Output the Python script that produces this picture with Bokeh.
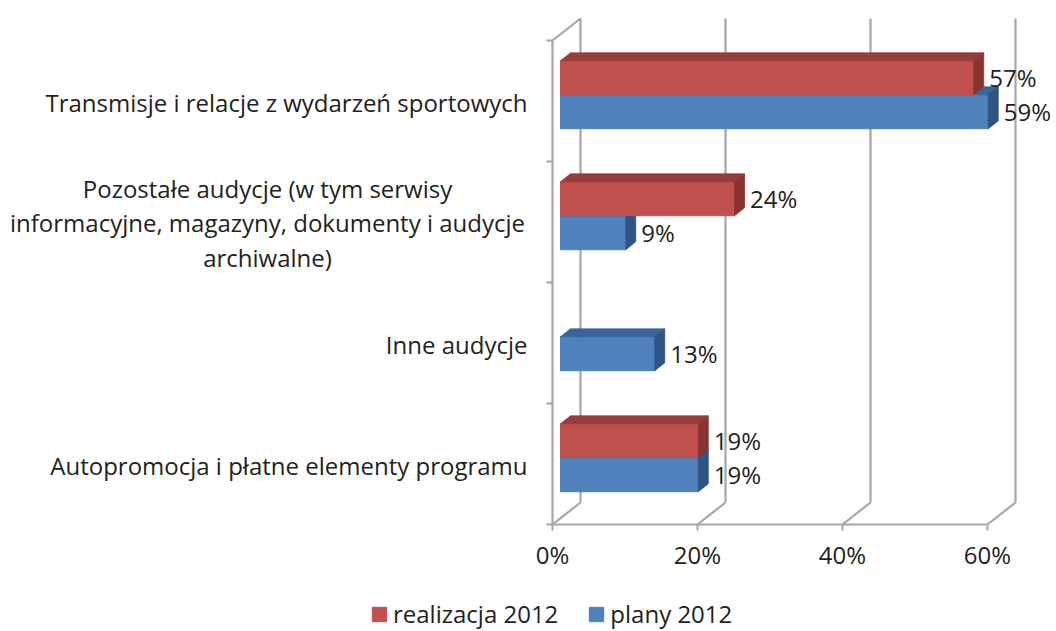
from bokeh.plotting import figure
from bokeh.models import (FixedTicker, PrintfTickFormatter, Legend, LegendItem, Range1d)
from bokeh.embed import file_html
from bokeh.resources import INLINE
from bokeh.core.properties import value

# ---------------- data (bottom to top) ----------------
categories = [
    "Autopromocja i płatne elementy programu",
    "Inne audycje",
    "Pozostałe audycje (w tym serwisy\ninformacyjne, magazyny, dokumenty i audycje\narchiwalne)",
    "Transmisje i relacje z wydarzeń sportowych",
]
realizacja_2012 = [19, None, 24, 57]
plany_2012 = [19, 13, 9, 59]
series_names = ["realizacja 2012", "plany 2012"]
x_ticks = [0, 20, 40, 60]

# ---------------- styling / geometry ----------------
FONT = "Open Sans"
FS = "24px"
TXT = "#231F20"
GRID = "#A6A6A6"
W, H = 1056, 631
ORIGIN_PX = 552          # pixel of 0% on the front plane
BASE_PX = 524            # pixel of the front baseline
PX_X = 7.25              # pixels per percent
PX_Y = 121.0             # pixels per category slot
DX = 28 / PX_X           # full depth (x, data units)
DY = 22 / PX_Y           # full depth (y, data units)
B_OFF = 8 / 28           # bar front offset as fraction of depth
B_DEP = 10 / 28          # bar depth as fraction of depth
BAR_H = 34 / PX_Y
LBL_GAP = 15.5 / PX_X

COLORS = {
    "red": ("#C0504D", "#963C3A", "#8A3431"),
    "blue": ("#4F81BD", "#3C6494", "#2F5382"),
}

x_start = -ORIGIN_PX / PX_X
y_start = -(H - BASE_PX) / PX_Y
p = figure(width=W, height=H, output_backend="svg", toolbar_location=None,
           x_range=Range1d(x_start, x_start + W / PX_X),
           y_range=Range1d(y_start, y_start + H / PX_Y),
           y_axis_location=None,
           min_border_left=0, min_border_right=0,
           min_border_top=0, min_border_bottom=0)
p.outline_line_color = None
p.grid.visible = False
p.background_fill_color = "white"
p.border_fill_color = "white"

n = len(categories)
xmax = max(x_ticks)

# ---------------- walls / gridlines ----------------
gx0, gy0, gx1, gy1 = [], [], [], []
for t in x_ticks:
    gx0.append(t); gy0.append(0); gx1.append(t + DX); gy1.append(DY)          # floor
    gx0.append(t + DX); gy0.append(DY); gx1.append(t + DX); gy1.append(n + DY)  # back wall
gx0.append(0); gy0.append(0); gx1.append(xmax); gy1.append(0)                 # front baseline
gx0.append(0); gy0.append(0); gx1.append(0); gy1.append(n)                    # left wall edge
gx0.append(0); gy0.append(n); gx1.append(DX); gy1.append(n + DY)              # left wall top
for k in range(n + 1):                                                        # category ticks
    gx0.append(-6 / PX_X); gy0.append(k); gx1.append(0); gy1.append(k)
p.segment(x0=gx0, y0=gy0, x1=gx1, y1=gy1, line_color=GRID, line_width=2.2)

# ---------------- 3D bars ----------------
ox = B_OFF * DX
oy = B_OFF * DY
bdx = B_DEP * DX
bdy = B_DEP * DY


def bars(values, offset, colkey):
    fl, fr, fb, ft = [], [], [], []
    txs, tys, sxs, sys_ = [], [], [], []
    lx, ly, lt = [], [], []
    for i, v in enumerate(values):
        if v is None:
            continue
        yb = i + 0.5 + offset + oy
        yt = yb + BAR_H
        fl.append(ox); fr.append(ox + v); fb.append(yb); ft.append(yt)
        txs.append([ox, ox + v, ox + v + bdx, ox + bdx]); tys.append([yt, yt, yt + bdy, yt + bdy])
        sxs.append([ox + v, ox + v + bdx, ox + v + bdx, ox + v]); sys_.append([yb, yb + bdy, yt + bdy, yt])
        lx.append(ox + v + LBL_GAP); ly.append((yb + yt) / 2); lt.append(f"{v}%")
    cf, ct, cs = COLORS[colkey]
    r = p.quad(left=fl, right=fr, bottom=fb, top=ft, fill_color=cf, line_color=cf, line_width=1)
    p.patches(xs=txs, ys=tys, fill_color=ct, line_color=ct, line_width=0.8)
    p.patches(xs=sxs, ys=sys_, fill_color=cs, line_color=cs, line_width=0.8)
    p.text(x=lx, y=ly, text=lt, text_font=value(FONT), text_font_size=FS,
           text_color=TXT, text_align="left", text_baseline="middle")
    return r


r_blue = bars(plany_2012, -BAR_H, "blue")
r_red = bars(realizacja_2012, 0.0, "red")

# ---------------- category labels ----------------
LBL_RIGHT = (527 - ORIGIN_PX) / PX_X
LBL_CENTER = (267 - ORIGIN_PX) / PX_X
cx, cy, ca = [], [], []
for i, c in enumerate(categories):
    multi = "\n" in c
    cx.append(LBL_CENTER if multi else LBL_RIGHT)
    ca.append("center" if multi else "right")
    cy.append(i + 0.5 - 1 / PX_Y)
p.text(x=cx, y=cy, text=categories, text_align=ca, text_baseline="middle",
       text_font=value(FONT), text_font_size=FS, text_color=TXT, text_line_height=1.04)

# ---------------- x axis (fixed at the front baseline) ----------------
xa = p.xaxis[0]
xa.fixed_location = 0
xa.ticker = FixedTicker(ticks=x_ticks)
xa.formatter = PrintfTickFormatter(format="%d%%")
xa.axis_line_color = None
xa.major_tick_out = 6
xa.major_tick_in = 0
xa.minor_tick_line_color = None
xa.major_tick_line_color = GRID
xa.major_tick_line_width = 2
xa.major_label_standoff = 7
xa.major_label_text_font = FONT
xa.major_label_text_font_size = FS
xa.major_label_text_color = TXT

# ---------------- legend ----------------
legend = Legend(items=[LegendItem(label=series_names[0], renderers=[r_red]),
                       LegendItem(label=series_names[1], renderers=[r_blue])],
                orientation="horizontal", location=(370, 1),
                glyph_width=18, glyph_height=18, label_standoff=5, spacing=29,
                padding=0, margin=0, border_line_color=None, background_fill_alpha=0,
                label_text_font=FONT, label_text_font_size=FS, label_text_color=TXT)
p.add_layout(legend, "center")

open("out.html", "w").write(file_html(p, INLINE))
